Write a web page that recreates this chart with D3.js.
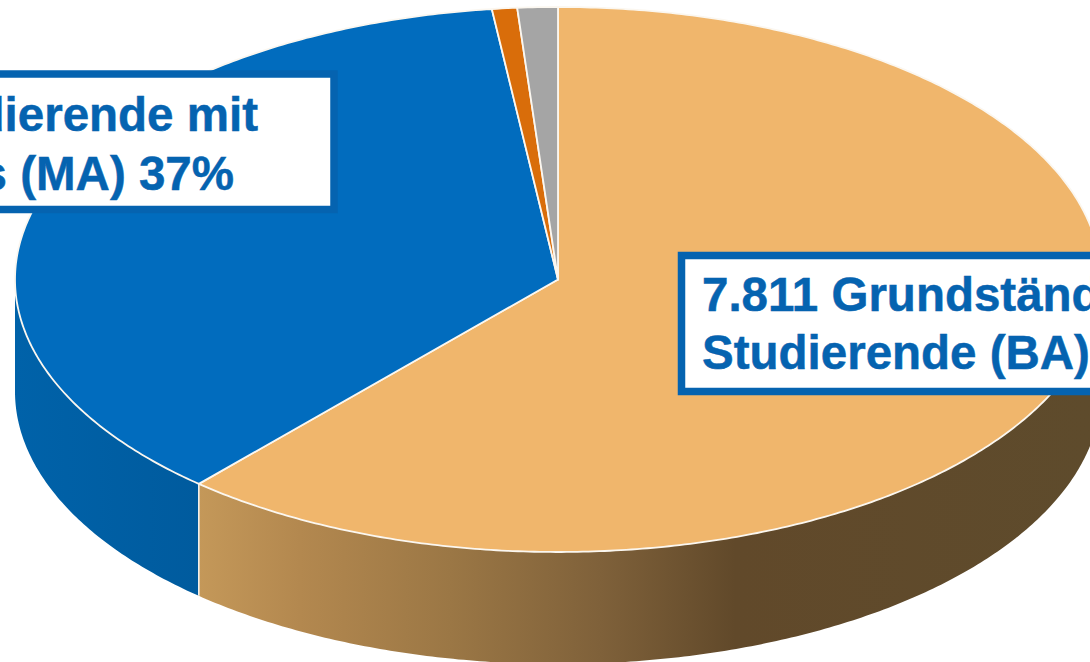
<!DOCTYPE html>
<html><head><meta charset="utf-8">
<style>html,body{margin:0;padding:0;background:#fff;overflow:hidden}svg{display:block}</style>
<script src="https://cdn.jsdelivr.net/npm/d3@7/dist/d3.min.js"></script>
</head><body><svg id="c" width="1090" height="662"></svg>
<script>
const categories = ["Grundständige Studierende (BA)", "Studierende mit Abschluss (MA)", "Sonstige", "Weitere"];
const values = [7811, 4642, 95, 152];
const topColors = ["#f0b66c", "#016cbe", "#d96d0a", "#a5a5a5"];
const labelLines = [["7.811 Grundständige", "Studierende (BA)"], ["Studierende mit", "Abschluss (MA) 37%"]];

const W = 1090, H = 662, cx = 558, cy = 279.5, rx = 543, ry = 272.5, depth = 112;
const svg = d3.select("#c");
const defs = svg.append("defs");
const sx = d3.scaleLinear().domain([-1, 1]).range([cx - rx, cx + rx]);
const sy = d3.scaleLinear().domain([-1, 1]).range([cy - ry, cy + ry]);

function grad(id, stops) {
  const g = defs.append("linearGradient").attr("id", id).attr("gradientUnits", "userSpaceOnUse")
    .attr("x1", 0).attr("x2", W).attr("y1", 0).attr("y2", 0);
  stops.forEach(s => g.append("stop").attr("offset", s[0] / W).attr("stop-color", s[1]));
}
grad("sideTan", [[199, "#c49859"], [300, "#b3884f"], [450, "#9b7745"], [600, "#7f613a"], [735, "#61492a"], [1090, "#5e4b2c"]]);
grad("sideBlue", [[15, "#0062a9"], [199, "#005b9e"]]);
const sideFill = ["url(#sideTan)", "url(#sideBlue)"];

const arcs = d3.pie().sort(null).value(d => d)(values);
const px = a => sx(Math.sin(a)), py = a => sy(-Math.cos(a));
const line = d3.line();
const samples = (a0, a1) => {
  const n = Math.max(2, Math.ceil((a1 - a0) / 0.01));
  return d3.range(n + 1).map(i => a0 + (a1 - a0) * i / n);
};

// sides
const front0 = Math.PI / 2, front1 = Math.PI * 1.5;
const sides = arcs.map((d, i) => ({ a0: Math.max(d.startAngle, front0), a1: Math.min(d.endAngle, front1), i }))
  .filter(d => d.a1 > d.a0);
svg.selectAll("path.side").data(sides).join("path").attr("class", "side")
  .attr("d", d => {
    const s = samples(d.a0, d.a1);
    const upper = s.map(a => [px(a), py(a)]);
    const lower = s.slice().reverse().map(a => [px(a), py(a) + depth]);
    return line(upper.concat(lower)) + "Z";
  })
  .attr("fill", d => sideFill[d.i]);
// seam
const seam = arcs[0].endAngle;
svg.append("line").attr("x1", px(seam)).attr("x2", px(seam))
  .attr("y1", py(seam)).attr("y2", py(seam) + depth)
  .attr("stroke", "#f4f1ea").attr("stroke-width", 1.6);

// top
svg.selectAll("path.top").data(arcs).join("path").attr("class", "top")
  .attr("d", d => {
    const pts = samples(d.startAngle, d.endAngle).map(a => [px(a), py(a)]);
    return line([[sx(0), sy(0)]].concat(pts)) + "Z";
  })
  .attr("fill", (d, i) => topColors[i])
  .attr("stroke", "#fbf7f0").attr("stroke-width", 1.8).attr("stroke-linejoin", "round");

// labels
const blue = "#0563b0", fs = 47.5, font = "'Liberation Sans', Arial, sans-serif";
function box(x, y, w, h) {
  svg.append("rect").attr("x", x).attr("y", y).attr("width", w).attr("height", h)
    .attr("fill", "#fff").attr("stroke", blue).attr("stroke-width", 7.5);
}
function text(x, y, s, anchor) {
  svg.append("text").attr("x", x).attr("y", y).attr("text-anchor", anchor)
    .attr("font-family", font).attr("font-weight", 700).attr("font-size", fs)
    .attr("fill", blue).attr("stroke", blue).attr("stroke-width", 0.5).text(s);
}
box(-60, 74, 394, 135.5);
text(258, 131, labelLines[1][0], "end");
text(234, 189.5, labelLines[1][1], "end");
box(681.5, 255.5, 500, 136);
text(702, 311, labelLines[0][0], "start");
text(702, 369, labelLines[0][1], "start");
</script></body></html>
